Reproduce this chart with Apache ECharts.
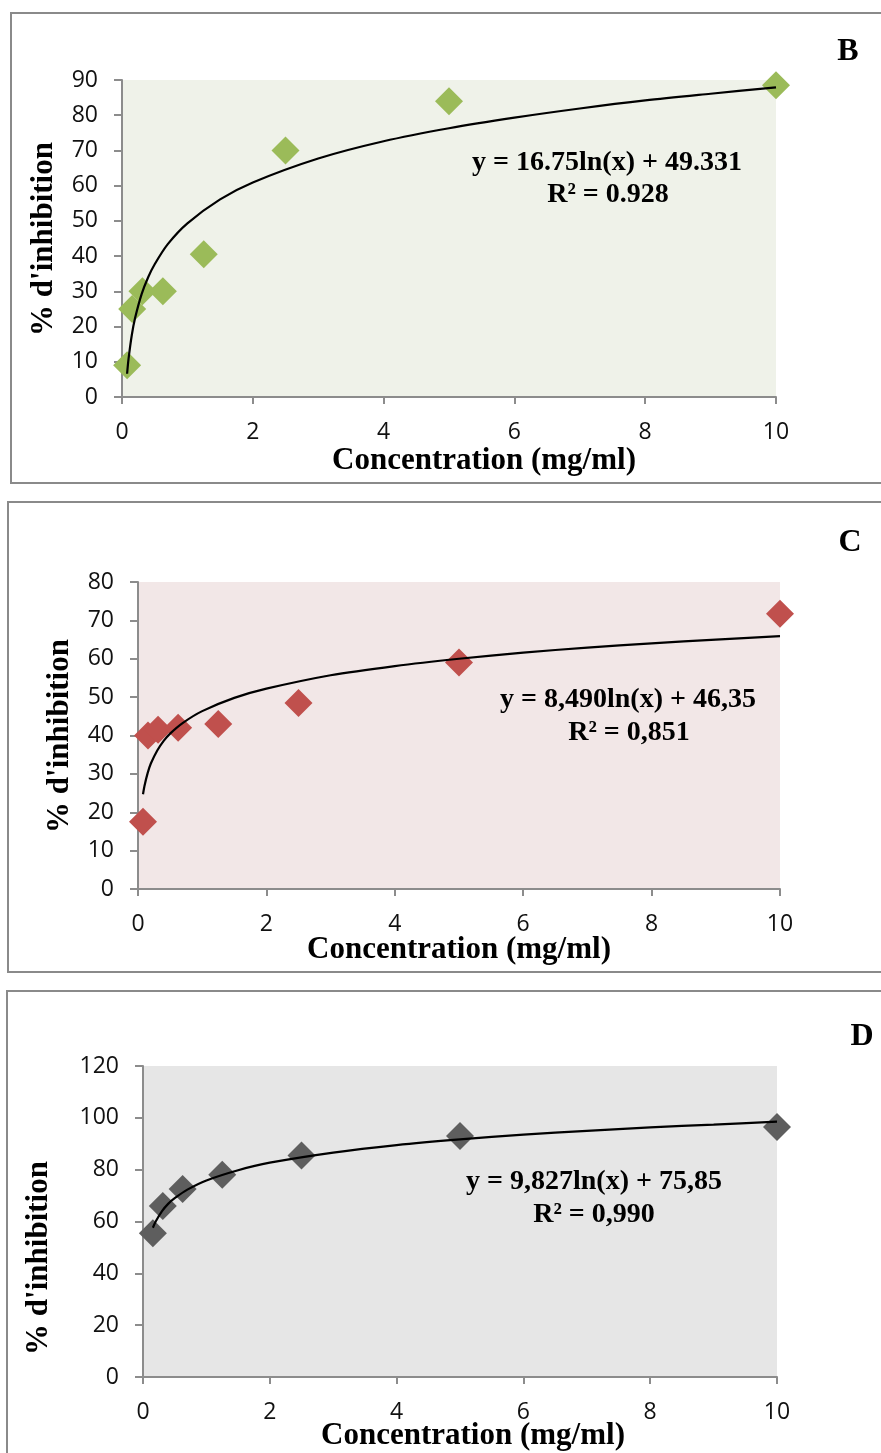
<!DOCTYPE html>
<html>
<head>
<meta charset="utf-8">
<script src="https://cdn.jsdelivr.net/npm/echarts@6/dist/echarts.min.js"></script>
<style>
  html, body { margin: 0; padding: 0; background: #fff; }
  #chart { width: 881px; height: 1453px; }
</style>
</head>
<body>
<div id="chart"></div>
<script>
// concentrations (mg/ml) and % inhibition
const concBC = [0.078, 0.156, 0.3125, 0.625, 1.25, 2.5, 5, 10];
const inhibB = [9, 25, 30, 30, 40.5, 70, 84, 88.5];
const inhibC = [17.5, 40, 41.5, 42, 43, 48.5, 59, 71.7];
const concD = [0.156, 0.3125, 0.625, 1.25, 2.5, 5, 10];
const inhibD = [55.5, 66, 72.5, 78, 85.5, 93, 96.5];

// logarithmic trend curves
const trendXBC = [0.078, 0.1, 0.15, 0.2, 0.3, 0.4, 0.5, 0.7, 1, 1.5, 2, 3, 4, 5, 6, 7, 8, 9, 10];
const trendB = [6.6, 10.8, 17.6, 22.4, 29.2, 34.0, 37.7, 43.4, 49.3, 56.1, 60.9, 67.7, 72.6, 76.3, 79.3, 81.9, 84.2, 86.1, 87.9];
const trendC = [24.7, 26.8, 30.2, 32.7, 36.1, 38.6, 40.5, 43.3, 46.35, 49.8, 52.2, 55.7, 58.1, 60.0, 61.6, 62.9, 64.0, 65.0, 65.9];
const trendXD = [0.156, 0.2, 0.3, 0.4, 0.5, 0.7, 1, 1.5, 2, 3, 4, 5, 6, 7, 8, 9, 10];
const trendD = [57.6, 60.0, 64.0, 66.9, 69.0, 72.3, 75.85, 79.8, 82.7, 86.6, 89.5, 91.7, 93.5, 95.0, 96.3, 97.4, 98.5];

const panelLetters = ['B', 'C', 'D'];
const equations = ['y = 16.75ln(x) + 49.331', 'y = 8,490ln(x) + 46,35', 'y = 9,827ln(x) + 75,85'];
const r2Labels = ['R² = 0.928', 'R² = 0,851', 'R² = 0,990'];
const yMax = [90, 80, 120];
const yStep = [10, 10, 20];

const zip = (xs, ys) => xs.map((x, i) => [x, ys[i]]);

const grids = [
  { left: 122, top: 80, width: 654, height: 317, bg: '#eff2e9' },
  { left: 138, top: 582, width: 642, height: 307, bg: '#f2e7e7' },
  { left: 143, top: 1066, width: 634, height: 311, bg: '#e6e6e6' }
];
const markerColors = ['#9bbb59', '#c0504d', '#5e5e5e'];

const axisLine = { lineStyle: { color: '#8c8c8c', width: 2 } };
const tickLabel = { color: '#111', fontFamily: 'Open Sans', fontSize: 23, margin: 24 };

const serif = 'Liberation Serif';
const textEl = (x, y, text, size, rot) => ({
  type: 'text', x: x, y: y, rotation: rot || 0,
  style: { text: text, fill: '#000', font: 'bold ' + size + 'px "' + serif + '"', textAlign: 'center', textVerticalAlign: 'middle' }
});

const graphic = [
  { type: 'rect', shape: { x: 11, y: 13, width: 900, height: 470 }, style: { fill: 'none', stroke: '#8a8a8a', lineWidth: 2 } },
  { type: 'rect', shape: { x: 8, y: 502, width: 900, height: 470 }, style: { fill: 'none', stroke: '#8a8a8a', lineWidth: 2 } },
  { type: 'rect', shape: { x: 7, y: 991, width: 900, height: 500 }, style: { fill: 'none', stroke: '#8a8a8a', lineWidth: 2 } },
  textEl(848, 52, panelLetters[0], 32),
  textEl(850, 543, panelLetters[1], 32),
  textEl(862, 1037, panelLetters[2], 32),
  textEl(44, 239, "% d'inhibition", 31, Math.PI / 2),
  textEl(60, 736, "% d'inhibition", 31, Math.PI / 2),
  textEl(39, 1258, "% d'inhibition", 31, Math.PI / 2),
  textEl(484, 461, 'Concentration (mg/ml)', 31),
  textEl(459, 950, 'Concentration (mg/ml)', 31),
  textEl(473, 1436, 'Concentration (mg/ml)', 31),
  textEl(607, 163, equations[0], 28),
  textEl(608, 195, r2Labels[0], 28),
  textEl(628, 700, equations[1], 28),
  textEl(629, 733, r2Labels[1], 28),
  textEl(594, 1182, equations[2], 28),
  textEl(594, 1215, r2Labels[2], 28)
];

const option = {
  animation: false,
  grid: grids.map(g => ({
    left: g.left, top: g.top, width: g.width, height: g.height,
    show: true, backgroundColor: g.bg, borderWidth: 0
  })),
  xAxis: grids.map((g, i) => ({
    type: 'value', gridIndex: i, min: 0, max: 10, interval: 2,
    axisLine: axisLine, axisTick: { length: 7, lineStyle: { color: '#8c8c8c', width: 2 } },
    axisLabel: tickLabel, splitLine: { show: false }
  })),
  yAxis: grids.map((g, i) => ({
    type: 'value', gridIndex: i, min: 0, max: yMax[i], interval: yStep[i],
    axisLine: { show: true, lineStyle: { color: '#8c8c8c', width: 2 } },
    axisTick: { show: true, length: 8, lineStyle: { color: '#8c8c8c', width: 2 } },
    axisLabel: tickLabel, splitLine: { show: false }
  })),
  series: [
    { type: 'scatter', xAxisIndex: 0, yAxisIndex: 0, data: zip(concBC, inhibB), symbol: 'diamond', symbolSize: 28, itemStyle: { color: markerColors[0], opacity: 1 } },
    { type: 'scatter', xAxisIndex: 1, yAxisIndex: 1, data: zip(concBC, inhibC), symbol: 'diamond', symbolSize: 28, itemStyle: { color: markerColors[1], opacity: 1 } },
    { type: 'scatter', xAxisIndex: 2, yAxisIndex: 2, data: zip(concD, inhibD), symbol: 'diamond', symbolSize: 28, itemStyle: { color: markerColors[2], opacity: 1 } },
    { type: 'line', xAxisIndex: 0, yAxisIndex: 0, data: zip(trendXBC, trendB), smooth: 0.3, showSymbol: false, z: 5, lineStyle: { color: '#000', width: 2.2 } },
    { type: 'line', xAxisIndex: 1, yAxisIndex: 1, data: zip(trendXBC, trendC), smooth: 0.3, showSymbol: false, z: 5, lineStyle: { color: '#000', width: 2.2 } },
    { type: 'line', xAxisIndex: 2, yAxisIndex: 2, data: zip(trendXD, trendD), smooth: 0.3, showSymbol: false, z: 5, lineStyle: { color: '#000', width: 2.2 } }
  ],
  graphic: graphic
};

const myChart = echarts.init(document.getElementById('chart'));
myChart.setOption(option);
</script>
</body>
</html>
